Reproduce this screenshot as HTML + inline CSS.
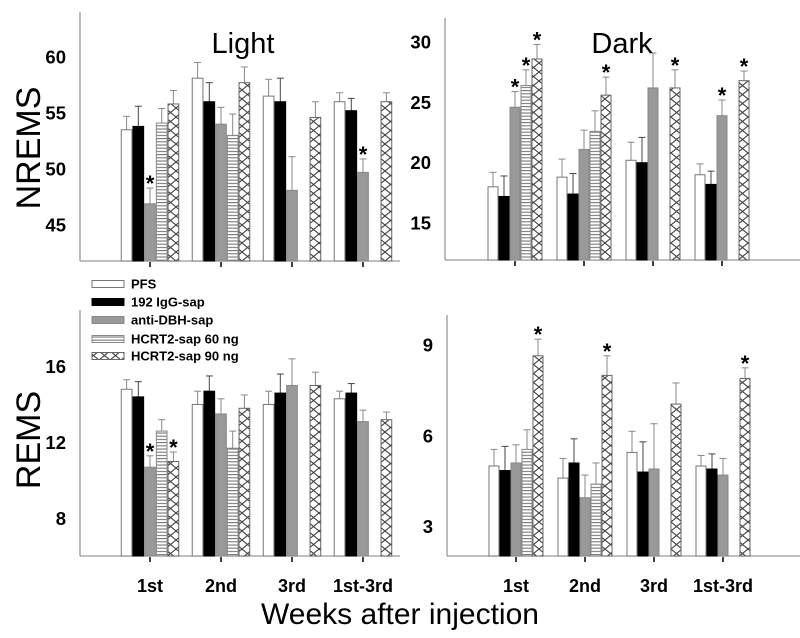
<!DOCTYPE html>
<html><head><meta charset="utf-8"><style>
html,body{margin:0;padding:0;background:#fff;width:800px;height:638px;overflow:hidden}
svg{display:block;font-family:"Liberation Sans",Arial,sans-serif}
</style></head><body>
<svg id="chart" width="800" height="638" viewBox="0 0 800 638">
<defs>
<pattern id="stripes" patternUnits="userSpaceOnUse" width="6" height="3.2">
<rect width="6" height="3.2" fill="#fff"/><line x1="0" y1="1" x2="6" y2="1" stroke="#777" stroke-width="1.1"/>
</pattern>
<pattern id="cross" patternUnits="userSpaceOnUse" width="11" height="9">
<rect width="11" height="9" fill="#fff"/><path d="M0,0 L11,9 M11,0 L0,9" stroke="#444" stroke-width="1.1" fill="none"/>
</pattern>
</defs>
<g id="plots"></g>
<text x="243" y="53" font-size="29" text-anchor="middle">Light</text>
<text x="622" y="53" font-size="29" text-anchor="middle">Dark</text>
<text transform="translate(40,148) rotate(-90)" font-size="34" text-anchor="middle">NREMS</text>
<text transform="translate(40,440) rotate(-90)" font-size="34" text-anchor="middle">REMS</text>
<text x="400" y="624" font-size="30" text-anchor="middle">Weeks after injection</text>
<g id="legend"></g>
</svg>
<script>
const categories = ["1st","2nd","3rd","1st-3rd"];
const seriesNames = ["PFS","192 IgG-sap","anti-DBH-sap","HCRT2-sap 60 ng","HCRT2-sap 90 ng"];
const nremsLight = [[53.5,58.1,56.5,56.0],[53.8,56.0,56.0,55.2],[46.9,54.0,48.1,49.7],[54.1,53.0,null,null],[55.8,57.7,54.6,56.0]];
const nremsLightErr = [[1.2,1.4,1.5,0.8],[1.8,1.7,2.1,1.1],[1.4,1.5,3.0,1.2],[1.3,1.9,0,0],[1.2,1.4,1.4,0.8]];
const nremsLightSig = [[0,0,0,0],[0,0,0,0],[1,0,0,1],[0,0,0,0],[0,0,0,0]];
const nremsDark = [[18.0,18.8,20.2,19.0],[17.2,17.4,20.0,18.2],[24.6,21.1,26.2,23.9],[26.4,22.6,null,null],[28.6,25.6,26.2,26.8]];
const nremsDarkErr = [[1.2,1.5,1.5,0.9],[1.7,1.7,2.1,1.1],[1.3,1.6,2.9,1.3],[1.3,1.7,0,0],[1.2,1.5,1.5,0.8]];
const nremsDarkSig = [[0,0,0,0],[0,0,0,0],[1,0,0,1],[1,0,0,0],[1,1,1,1]];
const remsLight = [[14.8,14.0,14.0,14.3],[14.4,14.7,14.6,14.6],[10.7,13.5,15.0,13.1],[12.6,11.7,null,null],[11.0,13.8,15.0,13.2]];
const remsLightErr = [[0.5,0.7,0.7,0.4],[0.8,0.8,1.0,0.5],[0.6,0.8,1.4,0.6],[0.6,0.9,0,0],[0.5,0.7,0.7,0.4]];
const remsLightSig = [[0,0,0,0],[0,0,0,0],[1,0,0,0],[0,0,0,0],[1,0,0,0]];
const remsDark = [[5.0,4.6,5.45,5.0],[4.85,5.1,4.8,4.9],[5.1,3.95,4.9,4.7],[5.55,4.4,null,null],[8.65,8.0,7.05,7.9]];
const remsDarkErr = [[0.55,0.65,0.7,0.35],[0.8,0.8,1.0,0.5],[0.6,0.75,1.5,0.55],[0.65,0.7,0,0],[0.55,0.65,0.7,0.35]];
const remsDarkSig = [[0,0,0,0],[0,0,0,0],[0,0,0,0],[0,0,0,0],[1,1,0,1]];
const ticksNL = [45,50,55,60], ticksND = [15,20,25,30], ticksRL = [8,12,16], ticksRD = [3,6,9];

const NS="http://www.w3.org/2000/svg";
const fills=["#fff","#000","#999","url(#stripes)","url(#cross)"];
const strokes=["#777","#000","#888","#888","#666"];
const root=document.getElementById('plots');
function mk(t,a,p){const e=document.createElementNS(NS,t);for(const k in a)e.setAttribute(k,a[k]);(p||root).appendChild(e);return e;}

function panel(cfg){
  const g=mk('g',{});
  
  
  const y=v=>cfg.y0-(v-cfg.vmin)/(cfg.vmax-cfg.vmin)*(cfg.y0-cfg.y1);
  const gx=i=>cfg.gx0+i*cfg.gsp;
  mk('line',{x1:cfg.ax,y1:cfg.y1,x2:cfg.ax,y2:cfg.y0,stroke:'#999','stroke-width':1.3},g);
  mk('line',{x1:cfg.ax,y1:cfg.y0,x2:cfg.xend,y2:cfg.y0,stroke:'#999','stroke-width':1.3},g);
  cfg.ticks.forEach(t=>{
    const tx=mk('text',{x:cfg.ax-14,y:y(t)+6.5,'font-size':18.5,'font-weight':'bold','text-anchor':'end'},g);
    tx.textContent=t;
    
    
  });
  categories.forEach((c,i)=>{
    mk('line',{x1:gx(i),y1:cfg.y0+1,x2:gx(i),y2:cfg.y0+6,stroke:'#000','stroke-width':1.5},g);
    if(cfg.labels){
      const tx=mk('text',{x:gx(i),y:cfg.y0+36,'font-size':18,'font-weight':'bold','text-anchor':'middle'},g);
      tx.textContent=c;
      
      
    }
  });
  const bw=cfg.bw;
  cfg.data.forEach((ser,s)=>{
    ser.forEach((v,i)=>{
      if(v===null)return;
      const x=gx(i)-2.5*bw+s*bw;
      const top=y(v), e=cfg.err[s][i], et=y(v+e);
      const xc=x+bw/2;
      const ec=s===1?'#444':'#888';
      mk('line',{x1:xc,y1:top,x2:xc,y2:et,stroke:ec,'stroke-width':1},g);
      mk('line',{x1:xc-3.5,y1:et,x2:xc+3.5,y2:et,stroke:ec,'stroke-width':1},g);
      const r=mk('rect',{x:x+0.5,y:top,width:bw-1,height:cfg.y0-top,fill:fills[s],stroke:strokes[s],'stroke-width':1},g);
      
      
      if(cfg.sig[s][i]){
        const st=mk('text',{x:xc,y:et+3,'font-size':22,'font-weight':'bold','text-anchor':'middle'},g);
        st.textContent='*';
        
        
      }
    });
  });
}
panel({name:'nrems-light-panel',ax:80,xend:400,y0:261,y1:12,vmin:41.8,vmax:64,gx0:150,gsp:71,bw:11.7,ticks:ticksNL,data:nremsLight,err:nremsLightErr,sig:nremsLightSig,labels:false});
panel({name:'nrems-dark-panel',ax:445,xend:800,y0:260,y1:18,vmin:11.93,vmax:32,gx0:515,gsp:69,bw:11,ticks:ticksND,data:nremsDark,err:nremsDarkErr,sig:nremsDarkSig,labels:false});
panel({name:'rems-light-panel',ax:80,xend:400,y0:556,y1:310,vmin:6.03,vmax:18.97,gx0:150,gsp:71,bw:11.7,ticks:ticksRL,data:remsLight,err:remsLightErr,sig:remsLightSig,labels:true});
panel({name:'rems-dark-panel',ax:447,xend:800,y0:556,y1:315,vmin:2.02,vmax:10,gx0:516,gsp:69,bw:11,ticks:ticksRD,data:remsDark,err:remsDarkErr,sig:remsDarkSig,labels:true});

const lg=document.getElementById('legend');
const ly=[284,302,320,339,356];
seriesNames.forEach((n,s)=>{
  const r=mk('rect',{x:92,y:ly[s]-3.5,width:32,height:7,fill:fills[s],stroke:strokes[s],'stroke-width':1},lg);
  
  
  const t=mk('text',{x:131,y:ly[s]+4.5,'font-size':13,'font-weight':'bold'},lg);
  t.textContent=n;
  
  
});
</script>
</body></html>
